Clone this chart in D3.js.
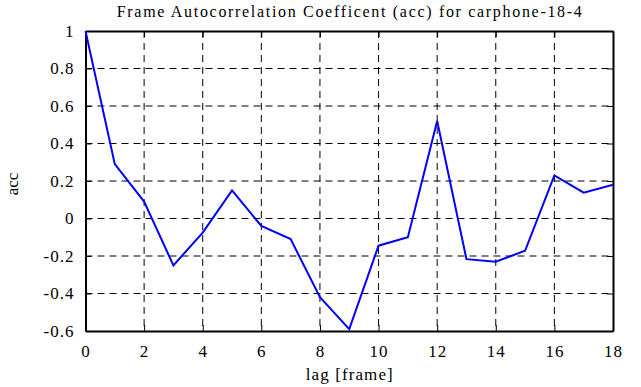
<!DOCTYPE html>
<html>
<head>
<meta charset="utf-8">
<script src="https://cdn.jsdelivr.net/npm/d3@7"></script>
<style>
  body { margin: 0; background: #fff; }
  svg { display: block; }
  svg text { font-family: "Liberation Serif", "Times New Roman", serif; fill: #000; }
</style>
</head>
<body>
<svg id="chart" width="641" height="387"></svg>
<script>
const lags = [0, 1, 2, 3, 4, 5, 6, 7, 8, 9, 10, 11, 12, 13, 14, 15, 16, 17, 18];
const accValues = [1.0, 0.29, 0.09, -0.25, -0.075, 0.15, -0.04, -0.11, -0.42, -0.59,
  -0.145, -0.10, 0.52, -0.217, -0.23, -0.172, 0.23, 0.138, 0.18];
const xTicks = [0, 2, 4, 6, 8, 10, 12, 14, 16, 18];
const yTicks = [-0.6, -0.4, -0.2, 0, 0.2, 0.4, 0.6, 0.8, 1];

const margin = { top: 31, right: 28, bottom: 56, left: 85.5 };
const svg = d3.select("#chart");
const width = 641 - margin.left - margin.right;
const height = 387 - margin.top - margin.bottom;

const xScale = d3.scaleLinear().domain([0, 18]).range([0, width]);
const yScale = d3.scaleLinear().domain([-0.6, 1]).range([height, 0]);

const g = svg.append("g").attr("transform", `translate(${margin.left},${margin.top})`);

// dashed grid
g.append("g")
  .selectAll("line")
  .data(xTicks.slice(1, -1))
  .join("line")
  .attr("x1", (d) => xScale(d)).attr("x2", (d) => xScale(d))
  .attr("y1", 0).attr("y2", height)
  .attr("stroke", "#000").attr("stroke-width", 1).attr("stroke-dasharray", "7,5");

g.append("g")
  .selectAll("line")
  .data(yTicks.slice(1, -1))
  .join("line")
  .attr("y1", (d) => yScale(d)).attr("y2", (d) => yScale(d))
  .attr("x1", 0).attr("x2", width)
  .attr("stroke", "#000").attr("stroke-width", 1).attr("stroke-dasharray", "7,5");

// axes with inward ticks on all four sides
const xBottom = g.append("g").attr("transform", `translate(0,${height})`)
  .call(d3.axisBottom(xScale).tickValues(xTicks).tickSizeInner(-6).tickSizeOuter(0).tickPadding(14));
const yLeft = g.append("g")
  .call(d3.axisLeft(yScale).tickValues(yTicks).tickFormat((d) => String(d)).tickSizeInner(-6).tickSizeOuter(0).tickPadding(11));
const xTop = g.append("g")
  .call(d3.axisTop(xScale).tickValues(xTicks).tickSizeInner(-6).tickSizeOuter(0).tickFormat(""));
const yRight = g.append("g").attr("transform", `translate(${width},0)`)
  .call(d3.axisRight(yScale).tickValues(yTicks).tickSizeInner(-6).tickSizeOuter(0).tickFormat(""));

[xBottom, yLeft, xTop, yRight].forEach((ax) => {
  ax.attr("font-family", null);
  ax.select(".domain").attr("stroke", "#000").attr("stroke-width", 2);
  ax.selectAll(".tick line").attr("stroke", "#000").attr("stroke-width", 1);
  ax.selectAll("text")
    .style("font-family", "'Liberation Serif', 'Times New Roman', serif")
    .style("font-size", "17px")
    .style("letter-spacing", "1px")
    .attr("fill", "#000");
});

// series
const line = d3.line().x((d, i) => xScale(lags[i])).y((d) => yScale(d));
g.append("path")
  .datum(accValues)
  .attr("d", line)
  .attr("fill", "none")
  .attr("stroke", "#0000ff")
  .attr("stroke-width", 2)
  .attr("stroke-linejoin", "miter");

// labels
svg.append("text")
  .attr("x", margin.left + width / 2).attr("y", 16.5)
  .attr("text-anchor", "middle").attr("font-size", 16)
  .attr("textLength", 465).attr("lengthAdjust", "spacing")
  .text("Frame Autocorrelation Coefficent (acc) for carphone-18-4");

svg.append("text")
  .attr("x", margin.left + width / 2).attr("y", 380)
  .attr("text-anchor", "middle").attr("font-size", 17)
  .attr("textLength", 87).attr("lengthAdjust", "spacing")
  .text("lag [frame]");

svg.append("text")
  .attr("transform", `translate(18,184) rotate(-90)`)
  .attr("text-anchor", "middle").attr("font-size", 17)
  .text("acc");
</script>
</body>
</html>
